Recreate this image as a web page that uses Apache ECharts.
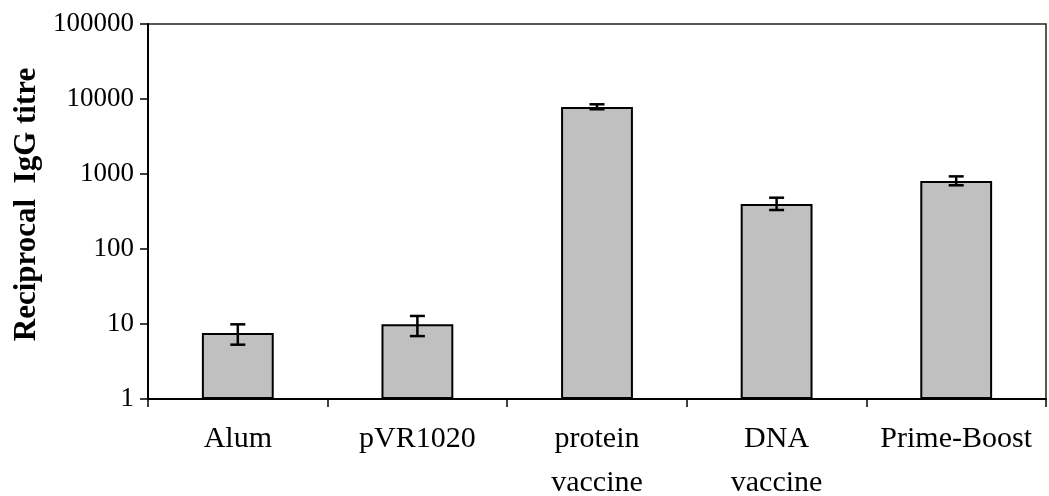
<!DOCTYPE html>
<html>
<head>
<meta charset="utf-8">
<script src="https://cdn.jsdelivr.net/npm/echarts@6/dist/echarts.min.js"></script>
<style>html,body{margin:0;padding:0;background:#fff;}#c{width:1049px;height:496px;}</style>
</head>
<body>
<div id="c"></div>
<script>
const categories = ['Alum', 'pVR1020', 'protein\nvaccine', 'DNA\nvaccine', 'Prime-Boost'];
const titreMean = [7.6, 9.9, 7850, 398, 805];
const errLow = [5.3, 6.9, 7300, 331, 707];
const errHigh = [9.9, 12.8, 8500, 483, 930];
const yTicks = [1, 10, 100, 1000, 10000, 100000];

const FONT = '"Liberation Serif", "Times New Roman", serif';
const chart = echarts.init(document.getElementById('c'));
const errData = categories.map((c, i) => [i, errLow[i], errHigh[i]]);

chart.setOption({
  animation: false,
  grid: { left: 148, right: 3, top: 24, bottom: 97, containLabel: false, outerBoundsMode: 'none', show: true, borderColor: '#222', borderWidth: 1.5, backgroundColor: 'transparent' },
  xAxis: {
    type: 'category',
    data: categories,
    axisLine: { lineStyle: { color: '#000', width: 2 } },
    axisTick: { show: true, length: 8, inside: false, lineStyle: { color: '#000', width: 1.5 } },
    axisLabel: { color: '#000', fontFamily: FONT, fontSize: 30, margin: 18, lineHeight: 44, interval: 0 }
  },
  yAxis: {
    type: 'log',
    logBase: 10,
    min: yTicks[0],
    max: yTicks[yTicks.length - 1],
    splitLine: { show: false },
    axisLine: { show: true, lineStyle: { color: '#000', width: 2 } },
    axisTick: { show: true, length: 8, lineStyle: { color: '#000', width: 1.5 } },
    axisLabel: { color: '#000', fontFamily: FONT, fontSize: 27, margin: 14, formatter: v => String(Math.round(v)) },
    name: 'Reciprocal  IgG titre',
    nameLocation: 'middle',
    nameGap: 106,
    nameTextStyle: { color: '#000', fontFamily: FONT, fontSize: 31, fontWeight: 'bold', padding: [0, 0, 0, 14] }
  },
  series: [
    {
      type: 'bar',
      data: titreMean,
      barWidth: '40%',
      itemStyle: { color: '#c0c0c0', borderColor: '#000', borderWidth: 2 }
    },
    {
      type: 'custom',
      data: errData,
      z: 10,
      renderItem: function (params, api) {
        const x = api.value(0);
        const lo = api.coord([x, api.value(1)]);
        const hi = api.coord([x, api.value(2)]);
        const half = 7.5;
        const style = { stroke: '#000', lineWidth: 2.5, fill: null };
        return {
          type: 'group',
          children: [
            { type: 'line', shape: { x1: hi[0], y1: hi[1], x2: lo[0], y2: lo[1] }, style: style },
            { type: 'line', shape: { x1: hi[0] - half, y1: hi[1], x2: hi[0] + half, y2: hi[1] }, style: style },
            { type: 'line', shape: { x1: lo[0] - half, y1: lo[1], x2: lo[0] + half, y2: lo[1] }, style: style }
          ]
        };
      }
    }
  ]
});
</script>
</body>
</html>
